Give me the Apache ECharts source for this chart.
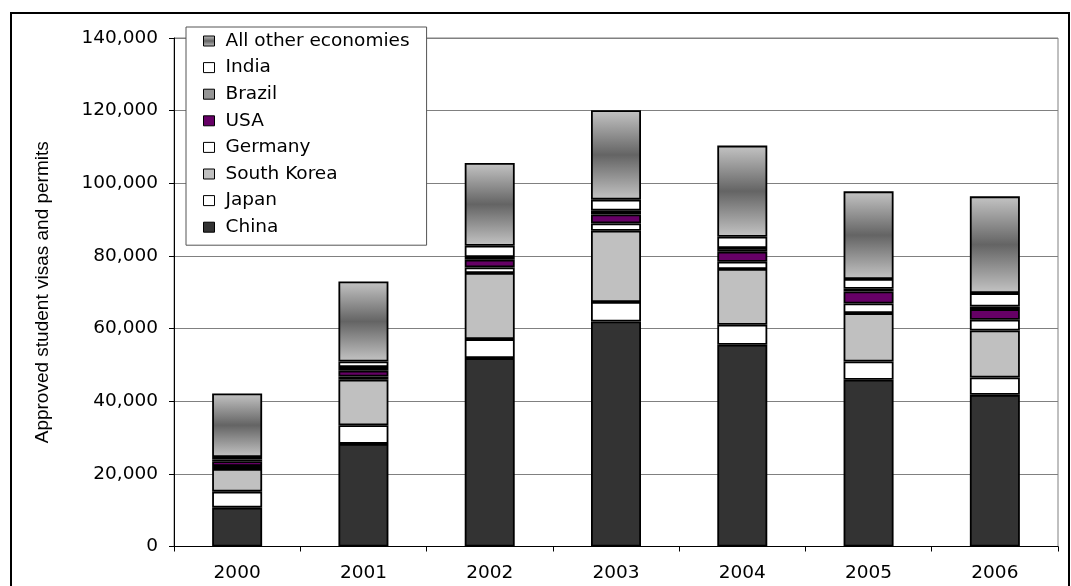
<!DOCTYPE html>
<html>
<head>
<meta charset="utf-8">
<script src="https://cdn.jsdelivr.net/npm/echarts@6/dist/echarts.min.js"></script>
<style>
  html, body { margin: 0; padding: 0; background: #fff; }
  #chart { width: 1071px; height: 586px; }
</style>
</head>
<body>
<div id="chart"></div>
<script>
// Approved student visas and permits by source economy, stacked per year
const years = ['2000', '2001', '2002', '2003', '2004', '2005', '2006'];
const china = [10700, 28250, 51870, 61950, 55530, 45890, 41750];
const japan = [4400, 5150, 5230, 5350, 5510, 5040, 4780];
const southKorea = [6260, 12490, 18190, 19650, 15350, 13330, 12950];
const germany = [800, 910, 1550, 2010, 2010, 2660, 2940];
const usa = [1300, 1570, 2120, 2480, 2760, 3310, 2940];
const brazil = [500, 1020, 740, 1020, 1020, 730, 730];
const india = [700, 1540, 3110, 3030, 3110, 2680, 3680];
const allOther = [17460, 22050, 22790, 24610, 25080, 24140, 26640];
const yTicks = [0, 20000, 40000, 60000, 80000, 100000, 120000, 140000];

const FONT = 'DejaVu Sans';

const otherFill = {
  type: 'linear', x: 0, y: 0, x2: 0, y2: 1,
  colorStops: [
    { offset: 0, color: '#c4c4c4' },
    { offset: 0.5, color: '#646464' },
    { offset: 1, color: '#c4c4c4' }
  ]
};

function bar(name, data, color) {
  return {
    name: name,
    type: 'bar',
    stack: 'total',
    data: data,
    barWidth: 50,
    itemStyle: { color: color, borderColor: '#000', borderWidth: 1.8 },
    emphasis: { disabled: true }
  };
}

const series = [
  bar('China', china, '#333333'),
  bar('Japan', japan, '#ffffff'),
  bar('South Korea', southKorea, '#c0c0c0'),
  bar('Germany', germany, '#ffffff'),
  bar('USA', usa, '#660066'),
  bar('Brazil', brazil, '#969696'),
  bar('India', india, '#ffffff'),
  bar('All other economies', allOther, otherFill)
];

const chart = echarts.init(document.getElementById('chart'), null, { renderer: 'canvas' });
chart.setOption({
  animation: false,
  backgroundColor: '#ffffff',
  textStyle: { fontFamily: FONT },
  grid: {
    left: 174, right: 13, top: 38, bottom: 39.5,
    show: true, borderColor: '#808080', borderWidth: 1,
    backgroundColor: 'transparent',
    outerBoundsMode: 'none'
  },
  legend: {
    orient: 'vertical',
    left: 186, top: 27,
    padding: [4, 17, 8, 17],
    itemGap: 6.6,
    itemWidth: 11, itemHeight: 10,
    icon: 'rect',
    backgroundColor: '#ffffff',
    borderColor: '#555555', borderWidth: 1,
    itemStyle: { borderColor: '#000', borderWidth: 1 },
    textStyle: { fontFamily: FONT, fontSize: 18.5, color: '#000', lineHeight: 20, padding: [0, 0, 0, 6] },
    data: ['All other economies', 'India', 'Brazil', 'USA', 'Germany', 'South Korea', 'Japan', 'China'],
    selectedMode: false
  },
  xAxis: {
    type: 'category',
    data: years,
    axisLine: { lineStyle: { color: '#000', width: 1 } },
    axisTick: { show: true, interval: 0, length: 5, inside: false, lineStyle: { color: '#000' } },
    axisLabel: { fontFamily: FONT, fontSize: 18.5, color: '#000', margin: 17, interval: 0 },
    splitLine: { show: false }
  },
  yAxis: {
    type: 'value',
    min: yTicks[0], max: yTicks[yTicks.length - 1], interval: yTicks[1] - yTicks[0],
    name: 'Approved student visas and permits',
    nameLocation: 'middle',
    nameRotate: 90,
    nameGap: 122,
    nameTextStyle: { fontFamily: 'Liberation Sans', fontSize: 19, color: '#000' },
    axisLine: { show: true, lineStyle: { color: '#000', width: 1 } },
    axisTick: { show: true, length: 5, inside: false, lineStyle: { color: '#000' } },
    axisLabel: {
      fontFamily: FONT, fontSize: 18.5, color: '#000', margin: 16,
      formatter: v => v.toLocaleString('en-US')
    },
    splitLine: { show: true, lineStyle: { color: '#808080', width: 1 } }
  },
  graphic: [
    {
      type: 'text', x: 166, y: -9, silent: true,
      style: {
        text: 'Approved student visas and permits',
        fontFamily: FONT, fontSize: 20, fontWeight: 'bold',
        fill: '#000', verticalAlign: 'middle'
      }
    },
    {
      type: 'rect', silent: true, z: 100,
      shape: { x: 11, y: 13, width: 1058, height: 620 },
      style: { fill: 'none', stroke: '#000', lineWidth: 2 }
    }
  ],
  series: series
});
</script>
</body>
</html>
